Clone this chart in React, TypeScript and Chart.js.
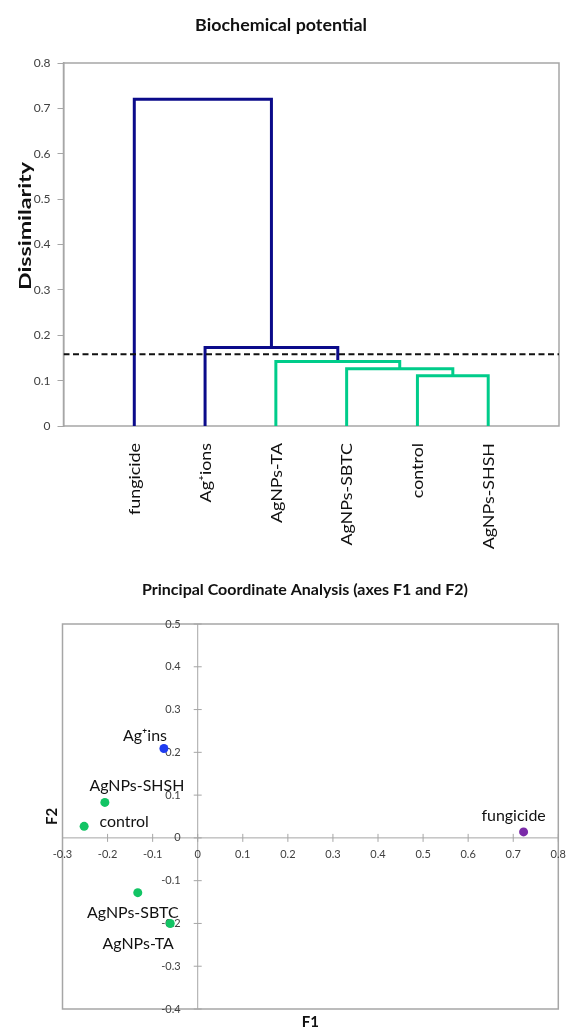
import React, { useEffect, useRef } from "react";
import { Chart, registerables } from "chart.js";

Chart.register(...registerables);

// ---------- Dendrogram (agglomerative clustering) ----------
const leafNames = ["fungicide", "Ag⁺ions", "AgNPs-TA", "AgNPs-SBTC", "control", "AgNPs-SHSH"];
// Agglomeration steps: ids < 6 are leaves, id 6 + k is the cluster created at step k
const mergeLeft = [4, 3, 2, 1, 0];
const mergeRight = [5, 6, 7, 8, 9];
const mergeHeight = [0.111, 0.126, 0.142, 0.173, 0.72];
const truncationLevel = 0.158;

// ---------- Principal coordinate analysis ----------
const pcoaNames = ["fungicide", "Ag⁺ins", "AgNPs-SHSH", "control", "AgNPs-SBTC", "AgNPs-TA"];
const pcoaF1 = [0.723, -0.075, -0.206, -0.252, -0.133, -0.061];
const pcoaF2 = [0.014, 0.209, 0.083, 0.027, -0.128, -0.2];
const f1Ticks = [-0.3, -0.2, -0.1, 0, 0.1, 0.2, 0.3, 0.4, 0.5, 0.6, 0.7, 0.8];
const f2Ticks = [-0.4, -0.3, -0.2, -0.1, 0, 0.1, 0.2, 0.3, 0.4, 0.5];

const NAVY = "#0b0b8a";
const GREEN = "#00cc8a";
const AXIS_GRAY = "#a6a6a6";
const TICK_TEXT = "#404040";
const FONT = "Lato, 'Open Sans', sans-serif";

const pointColor: Record<string, string> = {
  fungicide: "#7a2aa8",
  "Ag⁺ins": "#1f3cf0",
  "AgNPs-SHSH": "#12c464",
  control: "#12c464",
  "AgNPs-SBTC": "#12c464",
  "AgNPs-TA": "#12c464",
};

// label offsets (pixels) relative to each point
const labelOffset: Record<string, [number, number]> = {
  fungicide: [-10, -16],
  "Ag⁺ins": [-19, -13],
  "AgNPs-SHSH": [32, -17],
  control: [40, -4],
  "AgNPs-SBTC": [-5, 20],
  "AgNPs-TA": [-32, 20],
};

const fmt = (v: number) => String(Math.round(v * 10) / 10);

function buildLinks() {
  const xs: number[] = leafNames.map((_, i) => i + 1);
  const hs: number[] = leafNames.map(() => 0);
  const links: { points: { x: number; y: number }[]; below: boolean }[] = [];
  mergeLeft.forEach((l, k) => {
    const r = mergeRight[k];
    const h = mergeHeight[k];
    links.push({
      points: [
        { x: xs[l], y: hs[l] },
        { x: xs[l], y: h },
        { x: xs[r], y: h },
        { x: xs[r], y: hs[r] },
      ],
      below: h < truncationLevel,
    });
    xs.push((xs[l] + xs[r]) / 2);
    hs.push(h);
  });
  return links;
}

function fitSize(ctx: CanvasRenderingContext2D, text: string, weight: string, target: number) {
  ctx.font = `${weight} 20px ${FONT}`;
  return (20 * target) / ctx.measureText(text).width;
}

function drawVertical(
  ctx: CanvasRenderingContext2D,
  text: string,
  x: number,
  y: number,
  font: string,
  stretch: number,
  align: CanvasTextAlign
) {
  ctx.save();
  ctx.translate(x, y);
  ctx.scale(1, stretch);
  ctx.rotate(-Math.PI / 2);
  ctx.font = font;
  ctx.textAlign = align;
  ctx.textBaseline = "middle";
  ctx.fillText(text, 0, 0);
  ctx.restore();
}

const dendroDecor = {
  id: "dendroDecor",
  beforeDatasetsDraw(chart: any) {
    const { ctx, chartArea: a } = chart;
    ctx.save();
    ctx.strokeStyle = AXIS_GRAY;
    ctx.lineWidth = 1.5;
    ctx.strokeRect(a.left, a.top, a.right - a.left, a.bottom - a.top);
    ctx.restore();
  },
  afterDraw(chart: any) {
    const { ctx, chartArea: a } = chart;
    const xScale = chart.scales.x;
    ctx.save();
    ctx.fillStyle = "#111";
    // chart title
    const tSize = fitSize(ctx, "Biochemical potential", "bold", 172);
    ctx.font = `bold ${tSize}px ${FONT}`;
    ctx.textAlign = "center";
    ctx.textBaseline = "middle";
    ctx.fillText("Biochemical potential", 281, 25);

    // y axis title
    ctx.font = `bold 17px ${FONT}`;
    const yStretch = 128 / ctx.measureText("Dissimilarity").width;
    drawVertical(ctx, "Dissimilarity", 26, 226, `bold 17px ${FONT}`, yStretch, "center");

    // leaf labels below the axis
    ctx.font = `15px ${FONT}`;
    const lStretch = 72 / ctx.measureText(leafNames[0]).width;
    leafNames.forEach((name, i) => {
      const px = xScale.getPixelForValue(i + 1);
      drawVertical(ctx, name, px + 1, a.bottom + 17, `15px ${FONT}`, lStretch, "right");
    });
    ctx.restore();
  },
};

const pcoaDecor = {
  id: "pcoaDecor",
  beforeDatasetsDraw(chart: any) {
    const { ctx, chartArea: a, scales } = chart;
    const x0 = scales.x.getPixelForValue(0);
    const y0 = scales.y.getPixelForValue(0);
    ctx.save();
    ctx.strokeStyle = AXIS_GRAY;
    ctx.lineWidth = 1.5;
    ctx.strokeRect(a.left, a.top, a.right - a.left, a.bottom - a.top);
    ctx.lineWidth = 1;
    ctx.beginPath();
    ctx.moveTo(a.left, y0);
    ctx.lineTo(a.right, y0);
    ctx.moveTo(x0, a.top);
    ctx.lineTo(x0, a.bottom);
    f1Ticks.forEach((t) => {
      const px = scales.x.getPixelForValue(t);
      ctx.moveTo(px, y0 - 4);
      ctx.lineTo(px, y0 + 4);
    });
    f2Ticks.forEach((t) => {
      const py = scales.y.getPixelForValue(t);
      ctx.moveTo(x0 - 4, py);
      ctx.lineTo(x0 + 4, py);
    });
    ctx.stroke();

    ctx.fillStyle = TICK_TEXT;
    ctx.font = `11px ${FONT}`;
    ctx.textBaseline = "middle";
    ctx.textAlign = "center";
    f1Ticks.forEach((t) => {
      ctx.fillText(fmt(t), scales.x.getPixelForValue(t), y0 + 17);
    });
    ctx.textAlign = "right";
    f2Ticks.forEach((t) => {
      ctx.fillText(fmt(t), x0 - 17, scales.y.getPixelForValue(t));
    });
    ctx.restore();
  },
  afterDraw(chart: any) {
    const { ctx, chartArea: a, scales } = chart;
    ctx.save();
    ctx.fillStyle = "#111";
    ctx.textAlign = "center";
    ctx.textBaseline = "middle";

    // point labels
    ctx.font = `16px ${FONT}`;
    const lSize = (16 * 95) / ctx.measureText("AgNPs-SHSH").width;
    ctx.font = `${lSize}px ${FONT}`;
    pcoaNames.forEach((name, i) => {
      const px = scales.x.getPixelForValue(pcoaF1[i]);
      const py = scales.y.getPixelForValue(pcoaF2[i]);
      const [dx, dy] = labelOffset[name];
      ctx.fillText(name, px + dx, py + dy);
    });

    // title
    const title = "Principal Coordinate Analysis (axes F1 and F2)";
    const tSize = fitSize(ctx, title, "bold", 326);
    ctx.font = `bold ${tSize}px ${FONT}`;
    ctx.fillText(title, 305, 20);

    // axis titles
    ctx.font = `bold 15px ${FONT}`;
    ctx.fillText("F1", (a.left + a.right) / 2, a.bottom + 13);
    drawVertical(ctx, "F2", 52, (a.top + a.bottom) / 2, `bold 15px ${FONT}`, 1, "center");
    ctx.restore();
  },
};

function dendroConfig(): any {
  const links = buildLinks();
  return {
    type: "scatter",
    data: {
      datasets: [
        {
          data: [
            { x: 0, y: truncationLevel },
            { x: leafNames.length + 1, y: truncationLevel },
          ],
          showLine: true,
          borderColor: "#111",
          borderWidth: 2,
          borderDash: [6, 3.5],
          pointRadius: 0,
        },
        ...links.map((l) => ({
          data: l.points,
          showLine: true,
          borderColor: l.below ? GREEN : NAVY,
          borderWidth: 3,
          borderJoinStyle: "miter",
          pointRadius: 0,
          tension: 0,
        })),
      ],
    },
    options: {
      responsive: false,
      animation: false,
      layout: { padding: { left: 0, right: 7, top: 63, bottom: 144 } },
      scales: {
        x: { type: "linear", min: 0, max: leafNames.length + 1, display: false },
        y: {
          type: "linear",
          min: 0,
          max: 0.8,
          ticks: {
            stepSize: 0.1,
            callback: (v: number) => fmt(v),
            font: { family: FONT, size: 12 },
            color: TICK_TEXT,
            padding: 7,
          },
          grid: { drawOnChartArea: false, drawTicks: true, tickLength: 6, color: AXIS_GRAY },
          border: { color: AXIS_GRAY, width: 1.5 },
          afterFit: (s: any) => {
            s.width = 63.5;
          },
        },
      },
      plugins: { legend: { display: false }, tooltip: { enabled: false } },
    },
    plugins: [dendroDecor],
  };
}

function pcoaConfig(): any {
  return {
    type: "scatter",
    data: {
      datasets: [
        {
          data: pcoaF1.map((x, i) => ({ x, y: pcoaF2[i] })),
          pointBackgroundColor: pcoaNames.map((n) => pointColor[n]),
          pointBorderWidth: 0,
          pointRadius: 4.5,
        },
      ],
    },
    options: {
      responsive: false,
      animation: false,
      layout: { padding: { left: 62.5, right: 7.7, top: 54, bottom: 19 } },
      scales: {
        x: { type: "linear", min: -0.3, max: 0.8, display: false },
        y: { type: "linear", min: -0.4, max: 0.5, display: false },
      },
      plugins: { legend: { display: false }, tooltip: { enabled: false } },
    },
    plugins: [pcoaDecor],
  };
}

export default function App() {
  const topRef = useRef<HTMLCanvasElement>(null);
  const botRef = useRef<HTMLCanvasElement>(null);

  useEffect(() => {
    document.body.style.margin = "0";
    const c1 = new Chart(topRef.current as HTMLCanvasElement, dendroConfig());
    const c2 = new Chart(botRef.current as HTMLCanvasElement, pcoaConfig());
    return () => {
      c1.destroy();
      c2.destroy();
    };
  }, []);

  return (
    <div style={{ position: "relative", width: 566, height: 1028, background: "#fff" }}>
      <canvas ref={topRef} width={566} height={570} style={{ position: "absolute", left: 0, top: 0 }} />
      <canvas ref={botRef} width={566} height={458} style={{ position: "absolute", left: 0, top: 570 }} />
    </div>
  );
}
